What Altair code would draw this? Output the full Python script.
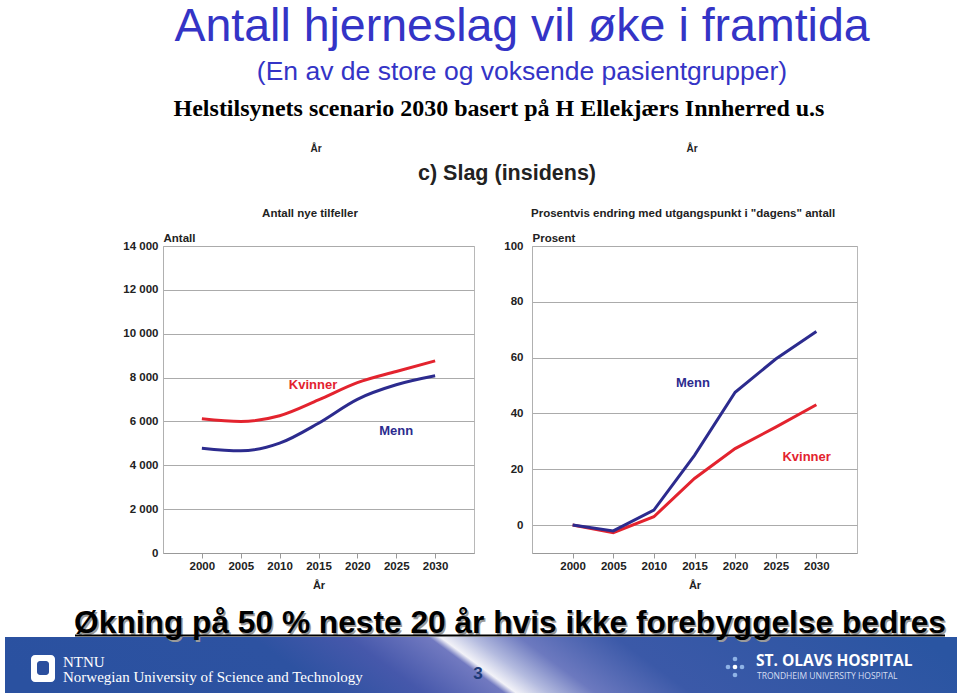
import altair as alt
import pandas as pd

# ---------------- data ----------------
years = [2000, 2005, 2010, 2015, 2020, 2025, 2030]
antall_kvinner = [6120, 6000, 6260, 6980, 7770, 8280, 8760]
antall_menn = [4780, 4660, 5010, 5920, 7010, 7670, 8080]
prosent_kvinner = [0, -2.7, 3.0, 16.7, 27.4, 35.1, 43.1]
prosent_menn = [0, -2.1, 5.4, 25.0, 47.6, 59.5, 69.4]

series = ["Kvinner", "Menn"]
colors = ["#e3232e", "#2c2b8e"]

antall_ticks = [0, 2000, 4000, 6000, 8000, 10000, 12000, 14000]
prosent_ticks = [0, 20, 40, 60, 80, 100]

# in-chart series labels (year, value)
left_label_text = ["Kvinner", "Menn"]
left_label_year = [2014.3, 2025.0]
left_label_value = [7680, 5545]
right_label_text = ["Menn", "Kvinner"]
right_label_year = [2014.8, 2028.8]
right_label_value = [50.8, 24.5]

title_main = "Antall hjerneslag vil øke i framtida"
title_sub = "(En av de store og voksende pasientgrupper)"
title_src = "Helstilsynets scenario 2030 basert på H Ellekjærs Innherred u.s"
fig_title = "c) Slag (insidens)"
left_title = "Antall nye tilfeller"
right_title = "Prosentvis endring med utgangspunkt i \"dagens\" antall"
caption = "Økning på 50 % neste 20 år hvis ikke forebyggelse bedres"

SANS = "Liberation Sans"
SERIF = "Liberation Serif"

df_left = pd.DataFrame({
    "year": years * 2,
    "value": antall_kvinner + antall_menn,
    "serie": ["Kvinner"] * len(years) + ["Menn"] * len(years),
})
df_right = pd.DataFrame({
    "year": years * 2,
    "value": prosent_kvinner + prosent_menn,
    "serie": ["Kvinner"] * len(years) + ["Menn"] * len(years),
})
df_left_lab = pd.DataFrame({"year": left_label_year, "value": left_label_value,
                            "serie": left_label_text})
df_right_lab = pd.DataFrame({"year": right_label_year, "value": right_label_value,
                             "serie": right_label_text})

color_scale = alt.Scale(domain=series, range=colors)

PLOT_TOP = 246   # page y of the plot areas' top edge
PLOT_H = 307

def Y(page_y):
    return page_y - PLOT_TOP


def one():
    return alt.Data(values=[{}])


def txt(text, x, y, size, color="#000", weight="normal", font=SANS, align="center"):
    return alt.Chart(alt.Data(values=[{"t": text}])).mark_text(
        fontSize=size, color=color, fontWeight=weight, font=font, align=align,
        baseline="alphabetic",
    ).encode(x=alt.value(x), y=alt.value(Y(y)), text="t:N")


def panel(df, dflab, ydomain, yticks, ytitle, width, labexpr, lpad, interp):
    xenc = alt.X("year:Q", scale=alt.Scale(domain=[1995, 2035], nice=False, zero=False),
                 axis=alt.Axis(values=years, format="d", title="År", titleFontSize=11,
                               titleFontWeight="bold", titleFont=SANS, titlePadding=8,
                               titleColor="#222",
                               tickSize=5, labelPadding=2, grid=False,
                               domainColor="#999", tickColor="#999",
                               labelFontSize=11.5, labelFontWeight="bold", labelFont=SANS,
                               labelColor="#222"))
    axis_kw = dict(values=yticks, title=ytitle, titleAngle=0, titleX=0, titleY=-5,
                   titleAlign="left", titleBaseline="alphabetic", titleFontSize=11.5,
                   titleFontWeight="bold", titleFont=SANS, titleColor="#222",
                   ticks=False, labelPadding=lpad, grid=True, gridColor="#ababab",
                   gridWidth=1, domainColor="#b0b0b0", labelFontSize=11.5,
                   labelFontWeight="bold", labelFont=SANS, labelColor="#222")
    if labexpr:
        axis_kw["labelExpr"] = labexpr
    yenc = alt.Y("value:Q", scale=alt.Scale(domain=ydomain, nice=False, zero=False),
                 axis=alt.Axis(**axis_kw))
    lines = alt.Chart(df).mark_line(strokeWidth=3, interpolate=interp).encode(
        x=xenc, y=yenc, color=alt.Color("serie:N", scale=color_scale, legend=None),
        order=alt.Order("year:Q"),
    )
    labels = alt.Chart(dflab).mark_text(fontSize=13, fontWeight="bold", font=SANS).encode(
        x="year:Q", y="value:Q", text="serie:N",
        color=alt.Color("serie:N", scale=color_scale, legend=None),
    )
    return alt.layer(lines, labels).properties(
        width=width, height=PLOT_H, view=alt.ViewBackground(stroke="#b8b8b8", strokeWidth=1)
    )


left = panel(df_left, df_left_lab, [0, 14000], antall_ticks, "Antall", 311,
             "replace(format(datum.value, ','), ',', ' ')", 5, "monotone")
right = panel(df_right, df_right_lab, [-10, 100], prosent_ticks, "Prosent", 325,
              None, 9, "linear")

spacer = alt.Chart(one()).mark_point(opacity=0).encode(
    x=alt.value(0), y=alt.value(0)).properties(width=58, height=PLOT_H)

TITLE_BLUE = "#3434c6"

# white page background spanning the whole 960x696 page
page = alt.Chart(one()).mark_rect(color="white").encode(
    x=alt.value(0), x2=alt.value(960), y=alt.value(Y(0)), y2=alt.value(Y(696)))

band = alt.Chart(one()).mark_rect(
    color=alt.Gradient(
        gradient="linear", x1=0, y1=0.54, x2=1, y2=0.46,
        stops=[
            alt.GradientStop(offset=0.0, color="#2a51a0"),
            alt.GradientStop(offset=0.30, color="#2d52a1"),
            alt.GradientStop(offset=0.40, color="#4658ab"),
            alt.GradientStop(offset=0.485, color="#7179c0"),
            alt.GradientStop(offset=0.497, color="#f2f2f8"),
            alt.GradientStop(offset=0.53, color="#b4bbdf"),
            alt.GradientStop(offset=0.58, color="#6c79bf"),
            alt.GradientStop(offset=0.68, color="#3b59a8"),
            alt.GradientStop(offset=1.0, color="#2a55a2"),
        ],
    )
).encode(x=alt.value(5), x2=alt.value(957), y=alt.value(Y(637)), y2=alt.value(Y(693)))

logo_out = alt.Chart(one()).mark_rect(color="white", cornerRadius=4).encode(
    x=alt.value(31), x2=alt.value(55), y=alt.value(Y(655)), y2=alt.value(Y(682)))
logo_in = alt.Chart(one()).mark_rect(color="#2b4f9e", cornerRadius=3).encode(
    x=alt.value(37), x2=alt.value(49), y=alt.value(Y(661)), y2=alt.value(Y(675)))

dot_x = [728, 735, 742, 735, 735]
dot_y = [667, 667, 667, 659, 675]
dot_c = ["#8fb3e6", "#ffffff", "#8fb3e6", "#8fb3e6", "#8fb3e6"]
dots = [alt.Chart(one()).mark_circle(size=22, color=c, opacity=1).encode(
    x=alt.value(x), y=alt.value(Y(y))) for x, y, c in zip(dot_x, dot_y, dot_c)]

underline = alt.Chart(one()).mark_rule(color="#000", strokeWidth=2).encode(
    x=alt.value(75), x2=alt.value(945), y=alt.value(Y(635.5)))

canvas = alt.layer(
    page,
    txt(title_main, 522, 40.5, 46.5, TITLE_BLUE),
    txt(title_sub, 522, 80, 26.5, TITLE_BLUE),
    txt(title_src, 499, 116, 24, "#000", "bold", SERIF),
    txt("År", 316, 152, 10, "#222", "bold"),
    txt("År", 692, 152, 10, "#222", "bold"),
    txt(fig_title, 507, 180, 21.5, "#222", "bold"),
    txt(left_title, 310, 217, 11.5, "#222", "bold"),
    txt(right_title, 531, 217, 11.5, "#222", "bold", align="left"),
    band,
    txt(caption, 511.5, 634.5, 31.7, "#9a9a9a", "bold"),
    txt(caption, 510, 633, 31.7, "#000", "bold"),
    underline,
    logo_out, logo_in,
    txt("NTNU", 63, 667, 15, "white", "normal", SERIF, align="left"),
    txt("Norwegian University of Science and Technology", 63, 682, 15, "white",
        "normal", SERIF, align="left"),
    txt("3", 478, 679, 17, "#1d3a78", "bold"),
    txt("ST. OLAVS HOSPITAL", 756, 666, 15.5, "white", "bold", "Open Sans", align="left"),
    txt("TRONDHEIM UNIVERSITY HOSPITAL", 757, 679, 8.5, "#d6def2", "normal", "Open Sans",
        align="left"),
    *dots,
).properties(width=163, height=PLOT_H)

chart = alt.hconcat(canvas, left, spacer, right, spacing=0, bounds="flush").properties(
    padding=0, background="white"
).configure_view(stroke=None)

chart.save("out.html", embed_options={"renderer": "svg", "actions": False})
